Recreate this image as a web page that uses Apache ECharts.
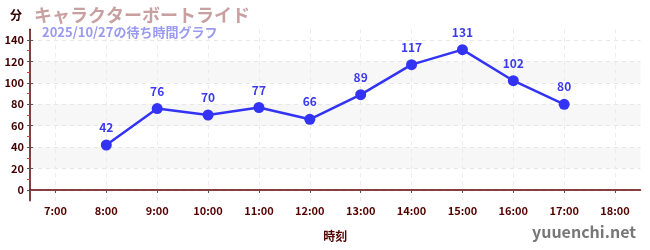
<!DOCTYPE html>
<html><head><meta charset="utf-8">
<script src="https://cdn.jsdelivr.net/npm/echarts@6/dist/echarts.min.js"></script>
<style>html,body{margin:0;padding:0;background:#fff}#c{width:650px;height:250px}</style>
</head><body><div id="c"></div>
<script>
const hours = [8, 9, 10, 11, 12, 13, 14, 15, 16, 17];
const waits = [42, 76, 70, 77, 66, 89, 117, 131, 102, 80];
const xTicks = [7, 8, 9, 10, 11, 12, 13, 14, 15, 16, 17, 18];
const yTicks = [0, 20, 40, 60, 80, 100, 120, 140];
const yMinor = [10, 30, 50, 70, 90, 110, 130];
const titleText = 'キャラクターボートライド';
const subText = '2025/10/27の待ち時間グラフ';

const F = '"Noto Sans CJK JP", "Noto Sans", sans-serif';
const chart = echarts.init(document.getElementById('c'), null, {renderer: 'canvas'});
const yBase = {
  type: 'value', min: -10, max: 150, position: 'left',
  axisLine: {show: false}, axisLabel: {show: false}, splitLine: {show: false}
};
chart.setOption({
  animation: false,
  grid: {left: 30, right: 9.5, top: 29.3, bottom: 49.3, containLabel: false},
  title: [
    {text: titleText, left: 29, top: 1, textStyle: {fontFamily: F, fontSize: 18, fontWeight: 'bold', color: '#c9a0a0'}},
    {text: subText, left: 37, top: 21, textStyle: {fontFamily: F, fontSize: 13, fontWeight: 'bold', color: '#9a9af0'}}
  ],
  graphic: [
    {type: 'text', left: 10, top: 9, style: {text: '分', font: 'bold 12px ' + F, fill: '#330000'}},
    {type: 'text', right: 14, top: 224, style: {text: 'yuuenchi.net', font: 'bold 16px ' + F, fill: '#777'}}
  ],
  xAxis: {
    type: 'value', min: 6.5, max: 18.5,
    name: '時刻', nameLocation: 'middle', nameGap: 30,
    nameTextStyle: {fontFamily: F, fontSize: 12, fontWeight: 'bold', color: '#550000'},
    axisLine: {show: true, lineStyle: {color: '#660000', width: 1.5}},
    axisTick: {show: true, customValues: xTicks, length: 3, lineStyle: {color: '#555'}},
    axisLabel: {customValues: xTicks, formatter: v => v + ':00', fontFamily: F, fontSize: 11, fontWeight: 'bold', color: '#550000', margin: 5},
    splitLine: {show: true, lineStyle: {color: '#ebebeb', type: [4, 4]}}
  },
  yAxis: [
    Object.assign({}, yBase, {
      axisLine: {show: true, lineStyle: {color: '#550000', width: 1.5}},
      axisTick: {show: true, customValues: yTicks, length: 3, lineStyle: {color: '#555'}},
      axisLabel: {show: true, customValues: yTicks, fontFamily: F, fontSize: 11, fontWeight: 'bold', color: '#440000', margin: 6},
      splitLine: {show: true, lineStyle: {color: '#e6e6e6', type: [4, 4]}},
      splitArea: {show: true, areaStyle: {color: ['rgba(255,255,255,0)', '#f7f7f7']}}
    }),
    Object.assign({}, yBase, {
      axisTick: {show: true, customValues: yMinor, length: 3, lineStyle: {color: '#ee3333'}}
    }),
    Object.assign({}, yBase, {
      axisTick: {show: true, inside: true, customValues: yTicks, length: 3, lineStyle: {color: '#555'}}
    })
  ],
  series: [{
    type: 'line',
    data: hours.map((h, i) => [h, waits[i]]),
    symbol: 'circle', symbolSize: 11,
    lineStyle: {color: '#3333f5', width: 2.5},
    itemStyle: {color: '#3333f5'},
    label: {show: true, position: 'top', distance: 6, fontFamily: F, fontSize: 12, fontWeight: 'bold', color: '#3b3bee'},
    z: 5
  }]
});
</script></body></html>
